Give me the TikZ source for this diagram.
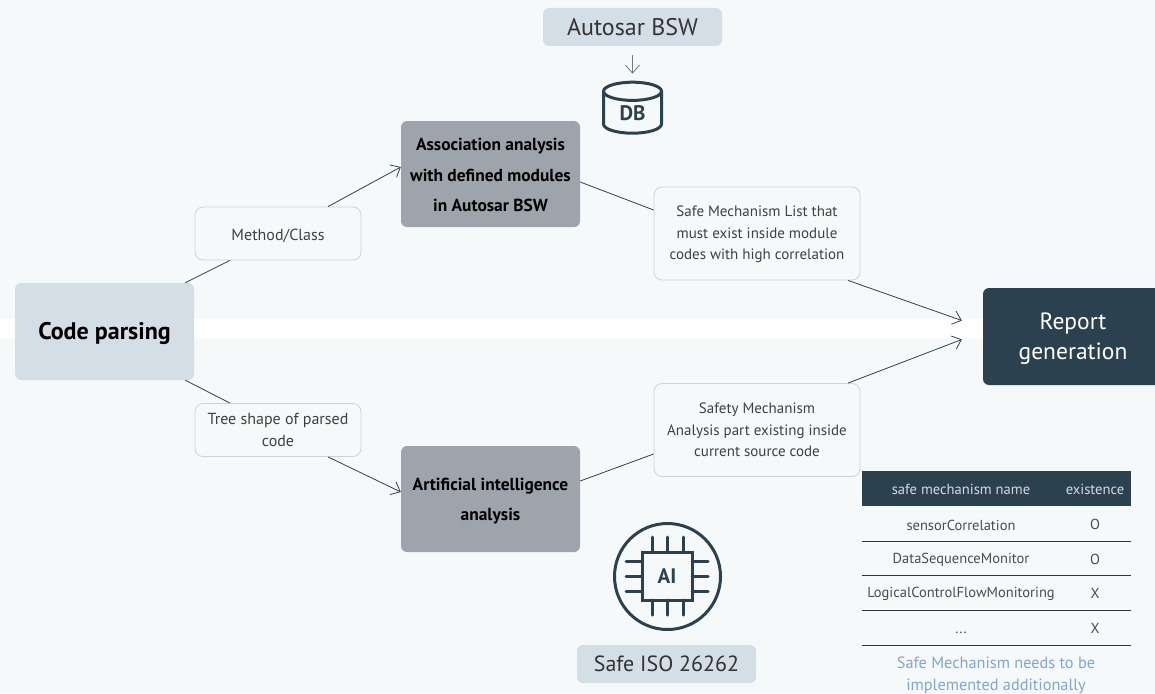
\documentclass[tikz,border=0pt]{standalone}
\usepackage{fontspec}
\setmainfont{PT Sans}
\usetikzlibrary{arrows.meta,shapes.geometric}
\definecolor{pagebg}{HTML}{F6F9FA}
\definecolor{palebox}{HTML}{D4DEE7}
\definecolor{greybox}{HTML}{9DA4AB}
\definecolor{darkbox}{HTML}{2C4150}
\definecolor{edgeline}{HTML}{CDD3D8}
\definecolor{notetext}{HTML}{7FA6D6}
\newcommand{\fs}[2]{\fontsize{#1}{#2}\selectfont}
\newcommand{\tp}[1]{\rule{0pt}{#1pt}}
\tikzset{
  >={Straight Barb[length=8pt,width=14pt,line width=0.8pt]},
  stage/.style={rounded corners=6pt,align=center,inner sep=0pt},
  palestage/.style={stage,fill=palebox,minimum width=179pt},
  greystage/.style={stage,fill=greybox,minimum width=179pt,minimum height=106pt,font=\fs{17.4}{30.5}\bfseries},
  tag/.style={rounded corners=8pt,draw=edgeline,fill=pagebg,align=center,inner sep=0pt,text=black!75,font=\fs{15}{21.5},line width=0.8pt},
  link/.style={draw=darkbox,line width=0.8pt},
  icon/.style={draw=darkbox,line width=3pt,line cap=round},
  head/.style={text=white!80!darkbox,font=\fs{14.6}{18},inner sep=0pt},
  cell/.style={text=black!70,font=\fs{14.5}{18},inner sep=0pt},
  rowline/.style={draw=black!80,line width=0.8pt},
}
\begin{document}
\begin{tikzpicture}[x=1pt,y=-1pt]
   \useasboundingbox (0,0) rectangle (1155,693);
   \fill[pagebg] (0,0) rectangle (1155,693);
   \fill[white] (0,319) rectangle (1155,339);

   % main stages
   \node[palestage,minimum height=97pt,font=\fs{24}{30}\bfseries] (code) at (104.5,331.5) {\tp{22}Code parsing};
   \node[greystage] (assoc) at (490.5,174) {\tp{15}Association analysis\\with defined modules\\in Autosar BSW};
   \node[greystage] (aian) at (490.5,499) {\tp{17}Artificial intelligence\\analysis};
   \node[stage,fill=darkbox,text=white,minimum width=180pt,minimum height=97pt,font=\fs{23.5}{30}] (report) at (1073,336.5) {\tp{21}Report\\generation};

   % labels on the connectors
   \node[tag,minimum width=166pt,minimum height=53pt,font=\fs{16}{21.5}] (method) at (278,233.5) {\tp{16}Method/Class};
   \node[tag,minimum width=166pt,minimum height=53pt,font=\fs{16}{21.5}] (tree) at (278,430) {Tree shape of parsed\\code};
   \node[tag,minimum width=206pt,minimum height=93pt] (safelist) at (757,233.5) {\tp{13}Safe Mechanism List that\\must exist inside module\\codes with high correlation};
   \node[tag,minimum width=206pt,minimum height=93pt] (safepart) at (757,430) {Safety Mechanism\\Analysis part existing inside\\current source code};

   \draw[link] ([xshift=-9pt]code.north east) -- ([xshift=-48pt]method.south);
   \draw[link,->] ([xshift=50pt]method.north) -- ([yshift=7pt]assoc.west);
   \draw[link] ([xshift=-9pt]code.south east) -- ([xshift=-48pt]tree.north);
   \draw[link,->] ([xshift=50pt]tree.south) -- ([yshift=7pt]aian.west);
   \draw[link] ([yshift=-8pt]assoc.east) -- ([yshift=23.5pt]safelist.west);
   \draw[link,->] ([xshift=91pt]safelist.south) -- ([xshift=-21pt,yshift=16pt]report.west);
   \draw[link] ([yshift=18pt]aian.east) -- ([yshift=-24pt]safepart.west);
   \draw[link,->] ([xshift=91pt]safepart.north) -- ([xshift=-21pt,yshift=-3pt]report.west);

   % database on top
   \node[palestage,minimum height=38pt,text=black!80,font=\fs{24}{28}] (autosar) at (632.5,27) {Autosar BSW};
   \node[cylinder,shape border rotate=90,aspect=0.7,draw=darkbox,line width=3pt,minimum width=58pt,minimum height=51pt,inner sep=0pt,text=darkbox,font=\fs{21}{24}\bfseries] (db) at (632.5,113) {DB};
   \draw[link,draw=darkbox!70,->] ([yshift=-9pt]autosar.south) -- ([yshift=7pt]db.north);

   % chip icon
   \draw[icon] (667.5,576.5) circle (53);
   \node[draw=darkbox,line width=3pt,minimum width=50pt,minimum height=48pt,inner sep=0pt,text=darkbox,font=\fs{21}{24}\bfseries] (chip) at (667,576) {AI};
   \draw[icon] (626,561) -- (642,561) (626,576) -- (642,576) (626,591) -- (642,591);
   \draw[icon] (692,561) -- (708,561) (692,576) -- (708,576) (692,591) -- (708,591);
   \draw[icon] (652,537) -- (652,552) (667,537) -- (667,552) (683,537) -- (683,552);
   \draw[icon] (652,600) -- (652,615) (667,600) -- (667,615) (683,600) -- (683,615);
   \node[palestage,minimum height=38pt,text=black!80,font=\fs{22}{28}] (iso) at (666.5,664) {Safe ISO 26262};

   % result table
   \fill[darkbox] (862,471) rectangle (1131,506);
   \node[head] (headname) at (961,489) {safe mechanism name};
   \node[head] (headexist) at (1095,489) {existence};
   \node[cell] (rowa) at (961,525) {sensorCorrelation};
   \node[cell] (marka) at (1095,524) {O};
   \node[cell] (rowb) at (961,560) {DataSequenceMonitor};
   \node[cell] (markb) at (1095,559) {O};
   \node[cell] (rowc) at (961,594) {LogicalControlFlowMonitoring};
   \node[cell] (markc) at (1095,593) {X};
   \node[cell] (rowd) at (961,633) {...};
   \node[cell] (markd) at (1095,628) {X};
   \draw[rowline] (862,541) -- (1131,541);
   \draw[rowline] (862,575.5) -- (1131,575.5);
   \draw[rowline] (862,610) -- (1131,610);
   \draw[rowline] (862,645) -- (1131,645);
   \node[align=center,inner sep=0pt,text=notetext,font=\fs{16.3}{22}] (note) at (996,675) {Safe Mechanism needs to be\\implemented additionally};
\end{tikzpicture}
\end{document}
